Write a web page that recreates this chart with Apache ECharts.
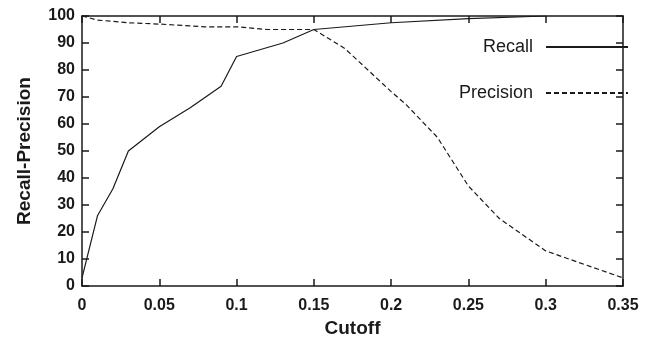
<!DOCTYPE html>
<html><head><meta charset="utf-8">
<script src="https://cdn.jsdelivr.net/npm/echarts@6/dist/echarts.min.js"></script>
<style>html,body{margin:0;padding:0;background:#fff}#c{width:656px;height:343px}</style>
</head><body><div id="c"></div>
<script>
const recallX = [0, 0.01, 0.02, 0.03, 0.05, 0.07, 0.09, 0.1, 0.13, 0.15, 0.2, 0.25, 0.3];
const recallY = [3, 26, 36, 50, 59, 66, 74, 85, 90, 95, 97.5, 99, 100];
const precisionX = [0, 0.01, 0.03, 0.05, 0.08, 0.1, 0.12, 0.15, 0.17, 0.2, 0.21, 0.23, 0.25, 0.27, 0.3, 0.35];
const precisionY = [100, 98.5, 97.5, 97, 96, 96, 95, 95, 88, 72, 67, 55, 37, 25, 13, 3];
const seriesNames = ['Recall', 'Precision'];
const xTitle = 'Cutoff';
const yTitle = 'Recall-Precision';

const pair = (xs, ys) => xs.map((x, i) => [x, ys[i]]);
const ink = '#1a1a1a';
const font = 'Liberation Sans, Arial, Helvetica, sans-serif';
const axisCommon = {
  axisLine: {show: true, onZero: false, lineStyle: {color: ink, width: 1.5}},
  axisTick: {show: true, inside: true, length: 7, lineStyle: {color: ink, width: 1.5}},
  splitLine: {show: false}
};
const chart = echarts.init(document.getElementById('c'));
chart.setOption({
  animation: false,
  grid: {left: 82, right: 33, top: 16, bottom: 56},
  legend: {
    orient: 'vertical', right: 22, top: 33, align: 'right',
    itemWidth: 82, itemHeight: 14, itemGap: 28,
    itemStyle: {opacity: 0},
    textStyle: {fontFamily: font, fontSize: 18, color: ink, padding: [0, 8, 0, 0]},
    data: seriesNames
  },
  xAxis: [
    Object.assign({type: 'value', min: 0, max: 0.35, interval: 0.05, position: 'bottom',
      name: xTitle, nameLocation: 'middle', nameGap: 33,
      nameTextStyle: {fontFamily: font, fontSize: 19, fontWeight: 'bold', color: ink},
      axisLabel: {fontFamily: font, fontSize: 16, fontWeight: 'bold', color: ink, margin: 12}}, axisCommon),
    Object.assign({type: 'value', min: 0, max: 0.35, interval: 0.05, position: 'top',
      axisLabel: {show: false}}, axisCommon)
  ],
  yAxis: [
    Object.assign({type: 'value', min: 0, max: 100, interval: 10, position: 'left',
      name: yTitle, nameLocation: 'middle', nameGap: 48,
      nameTextStyle: {fontFamily: font, fontSize: 19, fontWeight: 'bold', color: ink},
      axisLabel: {fontFamily: font, fontSize: 16, fontWeight: 'bold', color: ink, margin: 7}}, axisCommon),
    Object.assign({type: 'value', min: 0, max: 100, interval: 10, position: 'right',
      axisLabel: {show: false}}, axisCommon)
  ],
  series: [
    {name: seriesNames[0], type: 'line', data: pair(recallX, recallY), symbol: 'none',
     lineStyle: {color: ink, width: 1.2}, itemStyle: {color: ink}},
    {name: seriesNames[1], type: 'line', data: pair(precisionX, precisionY), symbol: 'none',
     lineStyle: {color: ink, width: 1.2, type: [5, 3]}, itemStyle: {color: ink}}
  ]
});
</script></body></html>
